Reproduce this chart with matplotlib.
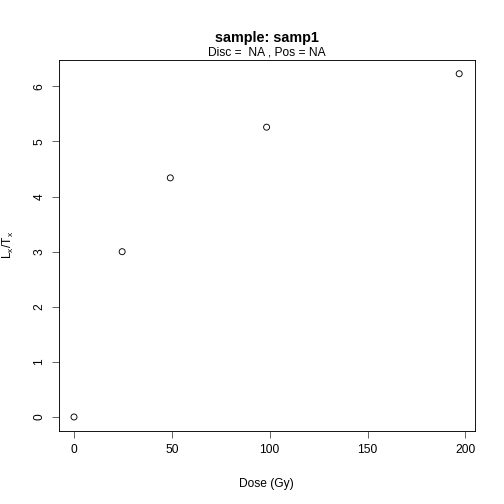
import matplotlib
matplotlib.use("Agg")
import matplotlib.pyplot as plt

plt.rcParams['font.family'] = ['Liberation Sans', 'DejaVu Sans']
plt.rcParams['mathtext.fontset'] = 'custom'
plt.rcParams['mathtext.rm'] = 'Liberation Sans'
plt.rcParams['mathtext.it'] = 'Liberation Sans'

dose = [0.0, 24.6, 49.2, 98.4, 196.8]
lxtx = [0.0, 3.0, 4.34, 5.26, 6.23]
xticks = [0, 50, 100, 150, 200]
yticks = [0, 1, 2, 3, 4, 5, 6]

W = H = 504
fig = plt.figure(figsize=(7, 7), dpi=72)
left, right, top, bottom = 58.6, 474.6, 60.0, 430.7
ax = fig.add_axes([left / W, 1 - bottom / H, (right - left) / W, (bottom - top) / H])

ax.scatter(dose, lxtx, s=36, facecolors='none', edgecolors='black', linewidths=0.9, zorder=3)

xmin, xmax = min(dose), max(dose)
dx = (xmax - xmin) * 0.04
ax.set_xlim(xmin - dx, xmax + dx)
ymin, ymax = min(lxtx), max(lxtx)
dy = (ymax - ymin) * 0.04
ax.set_ylim(ymin - dy, ymax + dy)

ax.set_xticks(xticks)
ax.set_yticks(yticks)
ax.tick_params(direction='out', length=7, width=0.9, labelsize=12, pad=6, color='#555555')
for lab in ax.get_yticklabels():
    lab.set_rotation(90)
    lab.set_va('center')
for s in ax.spines.values():
    s.set_linewidth(0.9)

ax.set_xlabel('Dose (Gy)', fontsize=12, labelpad=22)

cx = (left + right) / 2 / W
cy = 1 - (top + bottom) / 2 / H
fig.text(8 / W, cy, r'L$_{\mathregular{x}}$/T$_{\mathregular{x}}$', rotation=90,
         ha='center', va='center', fontsize=12)

fig.text(cx, 1 - 38 / H, 'sample: samp1', ha='center', va='center', fontsize=14.4, fontweight='bold')
fig.text(cx, 1 - 52.5 / H, 'Disc =  NA , Pos = NA', ha='center', va='center', fontsize=12)

fig.savefig('out.png', dpi=72)
